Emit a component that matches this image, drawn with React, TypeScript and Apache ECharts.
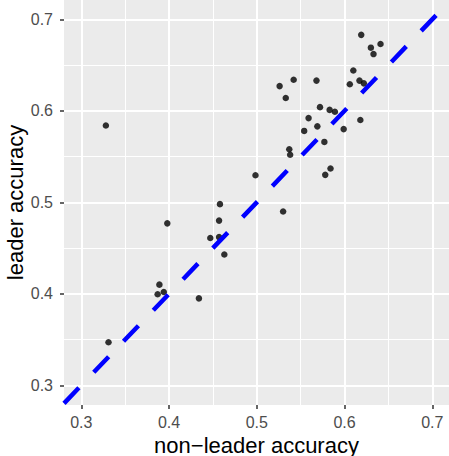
import React, { useEffect, useRef } from "react";
import * as echarts from "echarts";

const nonLeaderAccuracy = [
  0.619, 0.641, 0.630, 0.633, 0.610, 0.526, 0.542, 0.568, 0.606, 0.617,
  0.622, 0.533, 0.572, 0.583, 0.589, 0.559, 0.618, 0.554, 0.569, 0.599,
  0.577, 0.537, 0.538, 0.584, 0.578, 0.4985, 0.530, 0.328, 0.458, 0.457,
  0.398, 0.447, 0.457, 0.463, 0.389, 0.387, 0.394, 0.434, 0.331,
];
const leaderAccuracy = [
  0.683, 0.673, 0.669, 0.662, 0.644, 0.627, 0.634, 0.633, 0.629, 0.633,
  0.630, 0.614, 0.604, 0.601, 0.599, 0.592, 0.590, 0.578, 0.583, 0.580,
  0.566, 0.558, 0.552, 0.537, 0.530, 0.5295, 0.490, 0.584, 0.498, 0.480,
  0.477, 0.461, 0.462, 0.443, 0.410, 0.3995, 0.402, 0.395, 0.347,
];
const tickValues = [0.3, 0.4, 0.5, 0.6, 0.7];
const panelRange = [0.2803, 0.7191];
const xTitle = "non\u2212leader accuracy";
const yTitle = "leader accuracy";

export default function App() {
  const ref = useRef<HTMLDivElement>(null);
  useEffect(() => {
    if (!ref.current) return;
    const chart = echarts.init(ref.current, null, { renderer: "svg" });
    const points = nonLeaderAccuracy.map((x, i) => [x, leaderAccuracy[i]]);
    const fmt = (v: number) => {
      const r = Math.round(v * 10) / 10;
      return tickValues.some((t) => Math.abs(t - r) < 1e-9) && Math.abs(v - r) < 1e-6
        ? r.toFixed(1)
        : "";
    };
    const common = {
      type: "value",
      min: 0.2,
      max: 0.8,
      interval: 0.1,
      axisLine: { show: false },
      axisTick: { show: true, length: 4, lineStyle: { color: "#333333", width: 1.5 } },
      axisLabel: {
        color: "#4D4D4D",
        fontSize: 16,
        fontFamily: "Liberation Sans, Arial, sans-serif",
        formatter: fmt,
      },
      splitLine: { show: true, lineStyle: { color: "#FFFFFF", width: 2 } },
      minorTick: { show: false, splitNumber: 2 },
      minorSplitLine: { show: true, lineStyle: { color: "#FFFFFF", width: 1 } },
    };
    chart.setOption({
      animation: false,
      backgroundColor: "#FFFFFF",
      grid: {
        left: -6.45,
        right: -71.05,
        top: -72.2,
        bottom: -20.8,
        containLabel: false,
        outerBoundsMode: "none",
      },
      xAxis: {
        ...common,
        position: "bottom",
        offset: -71.8,
        axisLabel: { ...common.axisLabel, margin: 9 },
      },
      yAxis: {
        ...common,
        position: "left",
        offset: -70.45,
        axisLabel: { ...common.axisLabel, margin: 11 },
      },
      graphic: [
        {
          type: "rect",
          z: -100,
          zlevel: 0,
          shape: { x: 64, y: 0, width: 385, height: 405 },
          style: { fill: "#EBEBEB" },
          silent: true,
        },
        {
          type: "text",
          x: 256.5,
          y: 445,
          z: 100,
          style: {
            text: xTitle,
            fill: "#000000",
            fontSize: 22,
            fontFamily: "Liberation Sans, Arial, sans-serif",
            align: "center",
            verticalAlign: "middle",
          },
        },
        {
          type: "text",
          x: 15,
          y: 202.5,
          z: 100,
          rotation: Math.PI / 2,
          style: {
            text: yTitle,
            fill: "#000000",
            fontSize: 22,
            fontFamily: "Liberation Sans, Arial, sans-serif",
            align: "center",
            verticalAlign: "middle",
          },
        },
      ],
      series: [
        {
          type: "scatter",
          data: points,
          symbol: "circle",
          symbolSize: 6.5,
          itemStyle: { color: "#000000" },
          z: 3,
        },
        {
          type: "line",
          data: [
            [panelRange[0], panelRange[0]],
            [panelRange[1], panelRange[1]],
          ],
          showSymbol: false,
          symbol: "none",
          lineStyle: { color: "#0000FF", width: 4.5, type: [21.5, 21.5], cap: "butt" },
          z: 4,
        },
      ],
    });
    return () => chart.dispose();
  }, []);
  return (
    <div
      ref={ref}
      style={{ position: "fixed", left: 0, top: 0, width: 449, height: 456 }}
    />
  );
}
